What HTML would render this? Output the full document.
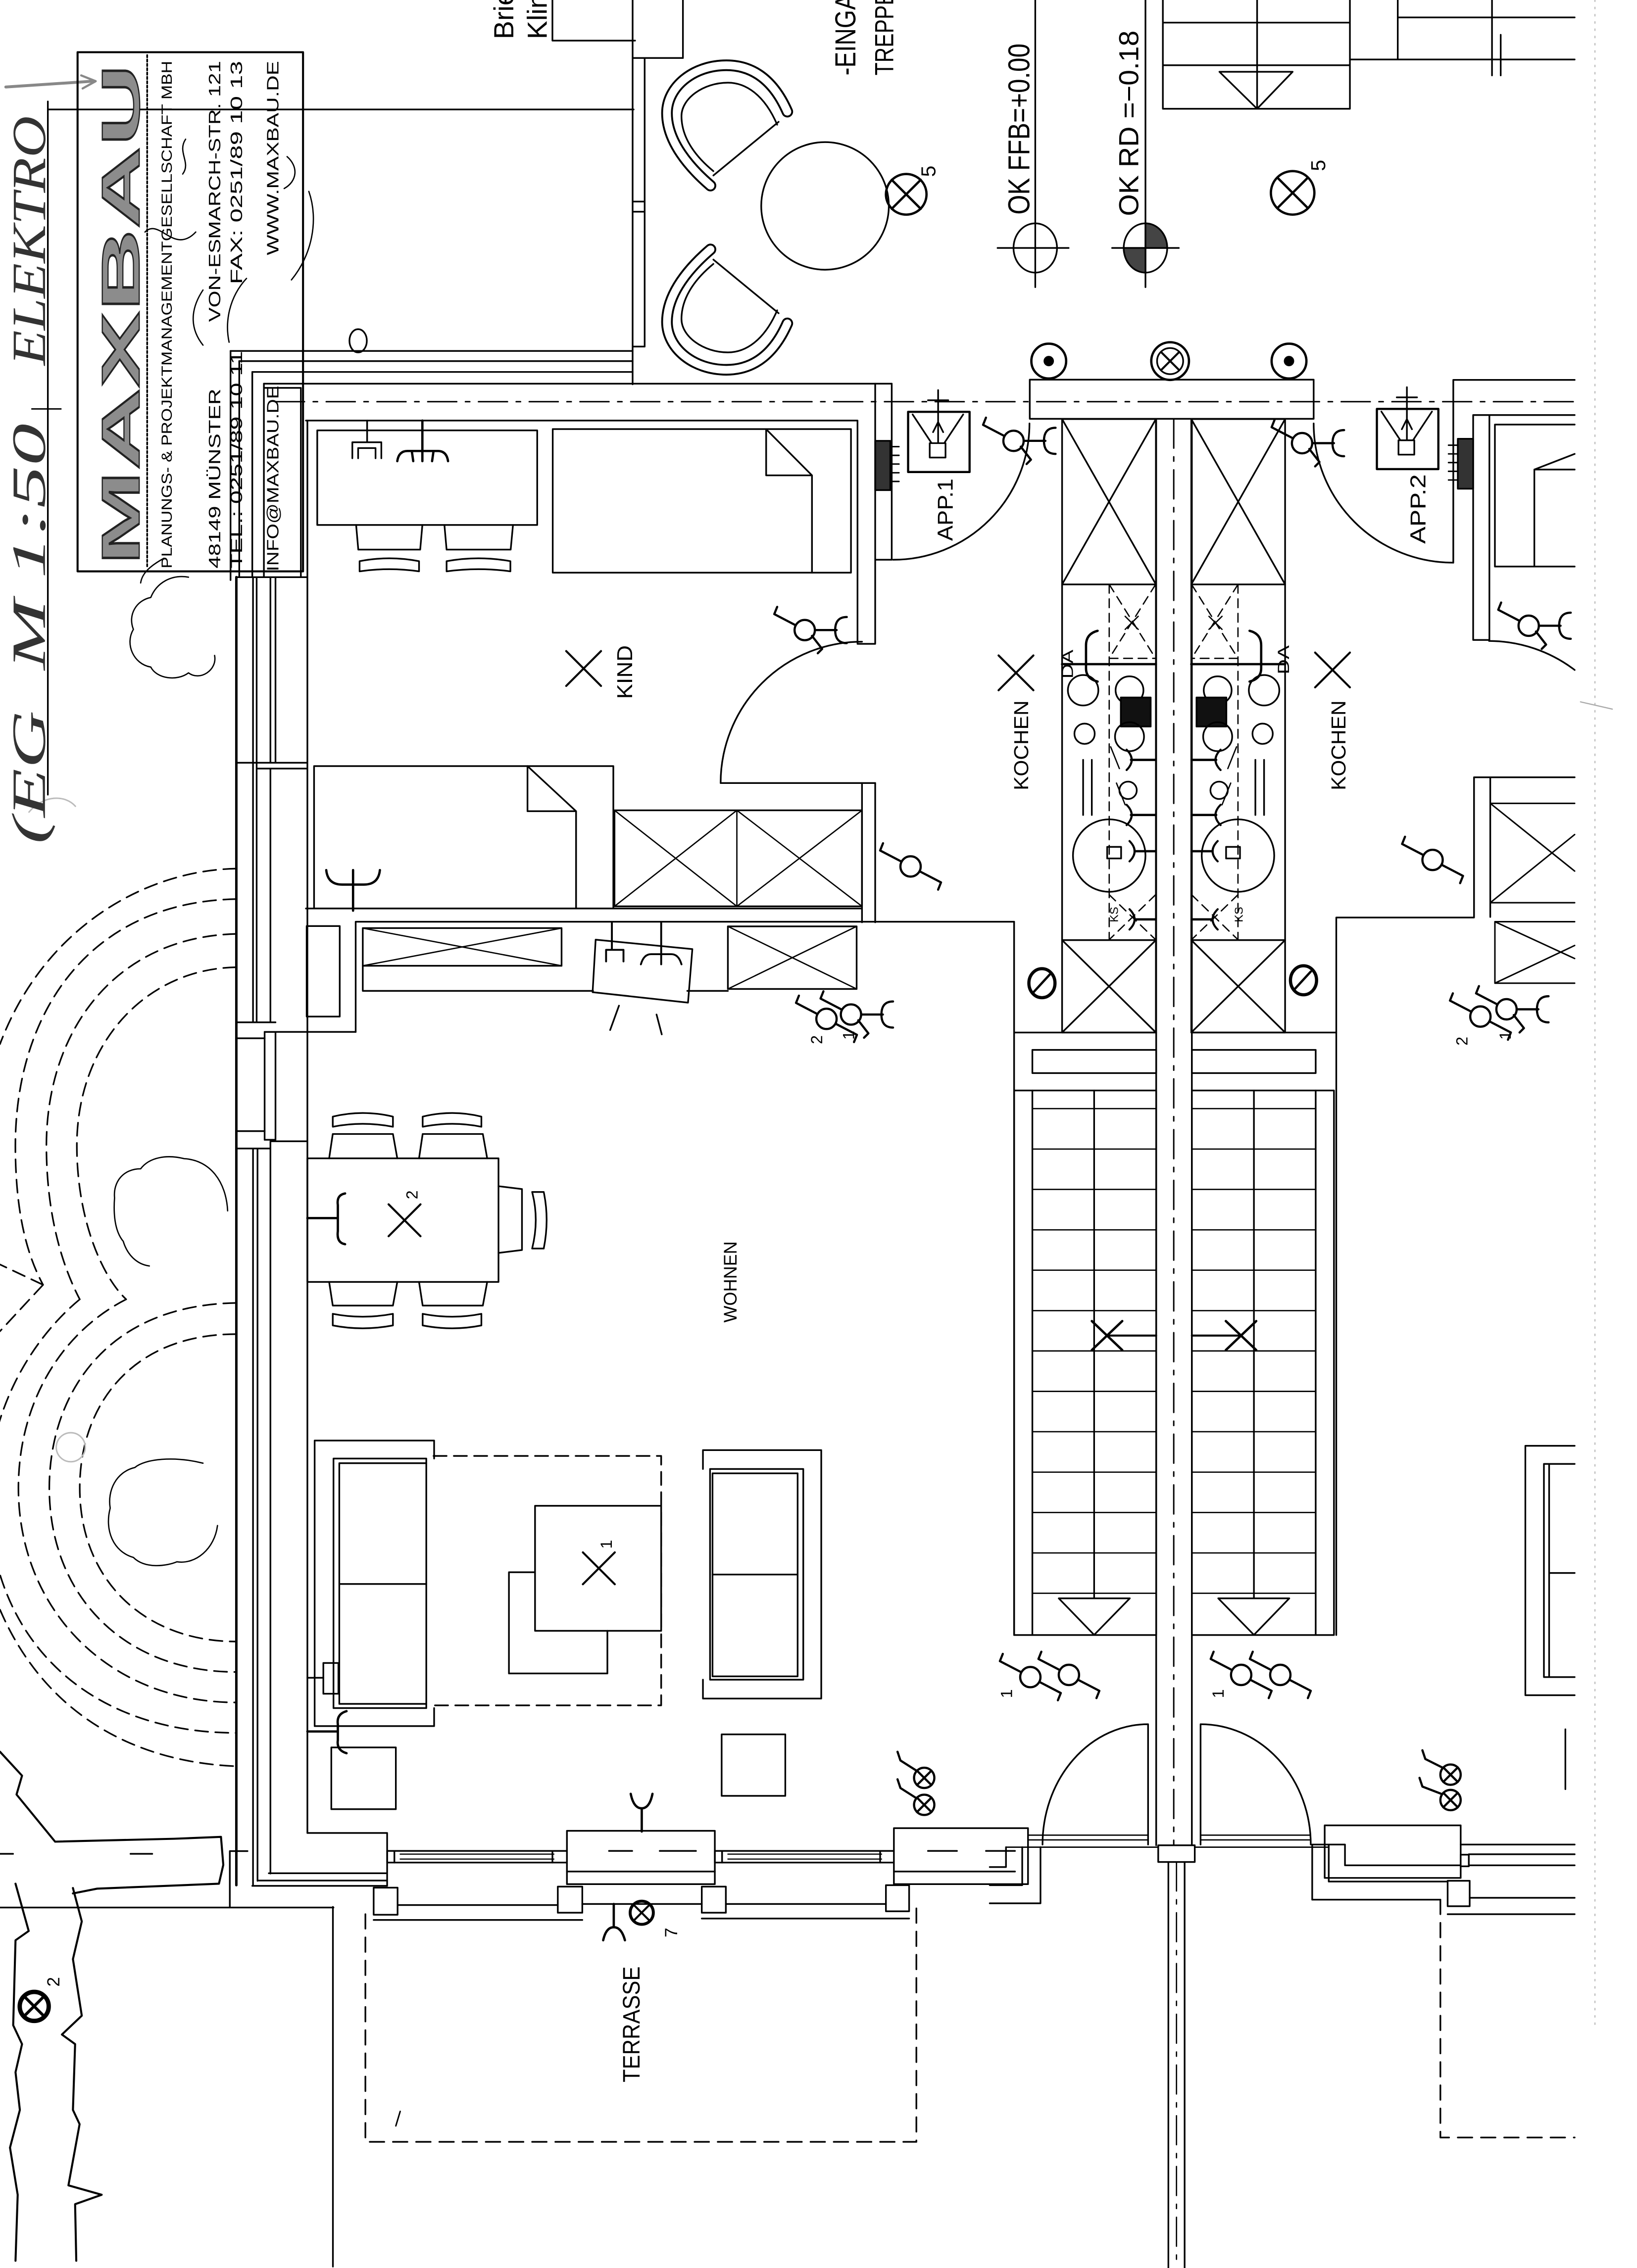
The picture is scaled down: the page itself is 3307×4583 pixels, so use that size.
<!DOCTYPE html>
<html><head><meta charset="utf-8"><style>
html,body{margin:0;padding:0;background:#fff;}
svg{display:block;}
text{font-family:"Liberation Sans",sans-serif;fill:#000;stroke:none;}
</style></head><body>
<svg xmlns="http://www.w3.org/2000/svg" xmlns:xlink="http://www.w3.org/1999/xlink" width="3307" height="4583" viewBox="0 0 1129 1564" preserveAspectRatio="none">
<defs>
 <g id="sw"><circle cx="0" cy="0" r="7"/><path d="M-6.2,-3.3 L-21,-11 L-19,-16 M6.2,3.3 L21,11 L19,16"/></g>
 <g id="swc"><circle cx="0" cy="0" r="7"/><path d="M-6.2,-3.3 L-21,-11 L-19,-16 M7,0 H22 M29,-9 Q21,-9 21,0 Q21,9 29,9 M5,4 L12,13 L9,16"/></g>
 <g id="lx"><circle cx="0" cy="0" r="7"/><path d="M-5,-5L5,5M5,-5L-5,5"/></g>
 <g id="kit">
  <rect x="732.5" y="289" width="64.7" height="423"/>
  <path d="M732.5,403H797.2 M732.5,289L797.2,403 M797.2,289L732.5,403"/>
  <path d="M732.5,648.3H797.2 M732.5,648.3L797.2,712 M797.2,648.3L732.5,712"/>
  <path d="M765,403V648 M765,403L797,454 M797,403L765,454 M765,454H797 M765,617L797,648 M797,617L765,648" stroke-dasharray="6 4" stroke-width="0.9"/>
  <path d="M776,425L785,434 M785,425L776,434" stroke-width="0.9"/>
  <path d="M732.5,458H797.2" stroke-width="1.6"/>
  <path d="M757,435 Q749,437 749,445 L749,461 Q749,468 757,470" stroke-width="1.6"/>
  <circle cx="747" cy="476" r="10.5"/>
  <circle cx="779" cy="476" r="9.6"/>
  <rect x="773" y="481" width="20.6" height="20" fill="#111"/>
  <circle cx="748" cy="506" r="7"/>
  <circle cx="779" cy="508" r="10"/>
  <path d="M747,524V562 M753,524V562"/>
  <path d="M780,524H797 M780,562H797 M783,587H797 M783,634H797" stroke-width="1.6"/>
  <circle cx="765" cy="590" r="25"/>
  <rect x="763.6" y="584" width="9.6" height="8"/>
  <path d="M777,517 Q784,524 777,531 M777,555 Q784,562 777,569 M779,580 Q786,587 779,594 M779,627 Q786,634 779,641" stroke-width="1.4"/>
  <circle cx="778" cy="545" r="6"/>
  <path d="M766,515 L772,530 M770,540 L776,555" stroke-width="0.9"/>
 </g>
 <g id="st">
  <rect x="699.4" y="752" width="98" height="375.5"/>
  <path d="M712,752V1127.5 M754.6,752V1102"/>
  <path d="M712,764.5H797.4 M712,792.4H797.4 M712,820.2H797.4 M712,848.1H797.4 M712,875.9H797.4 M712,903.8H797.4 M712,931.6H797.4 M712,959.5H797.4 M712,987.3H797.4 M712,1015.2H797.4 M712,1043H797.4 M712,1070.9H797.4 M712,1098.7H797.4" stroke-width="0.9"/>
  <path d="M730.2,1102.2H779.2L754.6,1127.4Z"/>
  <path d="M753,911L774,931 M753,931L774,911" stroke-width="1.6"/>
  <path d="M763.8,921H797.4" stroke-width="1.4"/>
  <rect x="712" y="724" width="85.4" height="16"/>
 </g>
</defs>
<rect width="1129" height="1564" fill="#fff"/>

<g fill="none" stroke="#000" stroke-width="1.15" stroke-linecap="round" stroke-linejoin="round">

<!-- handwriting / header -->
<path d="M4,60 L64,56" stroke="#888" stroke-width="2"/>
<path d="M56,52 L66,56 L57,61" stroke="#888" stroke-width="1.5"/>
<path d="M33,70V548"/>
<path d="M33,75.5H437"/>
<path d="M22,282 H42" stroke-width="1"/>

<!-- stamp -->
<rect x="53.5" y="36" width="155.5" height="358" stroke-width="1.4"/>
<path d="M101.5,38V392" stroke-dasharray="1.5 1.5" stroke-width="1.2"/>
<path d="M100,160 C110,150 120,176 135,160 M128,96 C122,105 132,112 126,120 M170,192 C158,205 155,222 158,236 M198,108 C206,115 205,125 196,130 M213,132 C220,152 215,176 201,193 M140,200 C130,215 132,228 140,238 M113,385 C104,390 98,395 97,402" stroke-width="0.9"/>
<!-- tree under stamp -->
<path d="M130,398 C118,396 108,402 104,412 C94,414 88,424 92,434 C86,444 92,458 104,460 C108,468 122,470 130,464 C138,470 150,462 148,452" stroke-width="0.9"/>

<!-- top front area -->
<path d="M381,0V28H438"/>
<path d="M436.3,0V265 M444.6,40V239 M436.3,40H471 M471,0V40 M436.3,139H444.6 M436.3,146H444.6 M436.3,239H444.6"/>
<path d="M159,242H436.3 M165,249H436.3 M174,256.5H436.3 M182,264.6H615"/>
<ellipse cx="247" cy="235" rx="6" ry="8"/>

<!-- chairs + table -->
<path d="M543,77 C532,52 516,45 501,45 C478,45 460,60 460,78 C460,98 476,116 490,128" stroke-width="8"/>
<path d="M543,77 C532,52 516,45 501,45 C478,45 460,60 460,78 C460,98 476,116 490,128" stroke="#fff" stroke-width="5.4"/>
<path d="M536,86 C527,65 514,57 502,57 C485,57 470,68 470,80 C470,96 481,109 492,118 M492,121 L537,84"/>
<g transform="matrix(1,0,0,-1,0,300)">
<path d="M543,77 C532,52 516,45 501,45 C478,45 460,60 460,78 C460,98 476,116 490,128" stroke-width="8"/>
<path d="M543,77 C532,52 516,45 501,45 C478,45 460,60 460,78 C460,98 476,116 490,128" stroke="#fff" stroke-width="5.4"/>
<path d="M536,86 C527,65 514,57 502,57 C485,57 470,68 470,80 C470,96 481,109 492,118 M492,121 L537,84"/>
</g>
<circle cx="569" cy="142" r="44"/>
<circle cx="625" cy="134" r="14" stroke-width="1.6"/>
<path d="M615,124L635,144 M635,124L615,144" stroke-width="1.6"/>

<!-- level markers -->
<path d="M714,0V198 M688,171H737"/>
<ellipse cx="714" cy="171" rx="15" ry="17"/>
<path d="M790,0V198 M767,171H813"/>
<ellipse cx="790" cy="171" rx="15" ry="17"/>
<path d="M790,171 L790,154 A15,17 0 0 1 805,171 Z M790,171 L790,188 A15,17 0 0 1 775,171 Z" fill="#444"/>

<!-- top right stair -->
<path d="M802,0V75H931V0 M867,0V75 M802,15.6H931 M802,45H931 M841,49.5H891.5L867,75Z"/>
<path d="M964,0V41 M964,12H1086 M931,41H1086 M1029,0V41 M1029,24V52 M1035,24V52"/>
<circle cx="891.5" cy="133" r="15" stroke-width="1.6"/>
<path d="M881,122.5L902,143.5 M902,122.5L881,143.5" stroke-width="1.6"/>

<!-- outlets top -->
<circle cx="723.3" cy="249" r="12" stroke-width="1.6"/><circle cx="723.3" cy="249" r="3" fill="#000"/>
<circle cx="807" cy="249" r="13" stroke-width="1.6"/><circle cx="807" cy="249" r="9"/>
<path d="M801,243L813,255 M813,243L801,255" stroke-width="1.4"/>
<circle cx="889" cy="249" r="12" stroke-width="1.6"/><circle cx="889" cy="249" r="3" fill="#000"/>

<!-- building top walls -->
<path d="M190,277H1086" stroke-dasharray="20 6 3 6" stroke-width="1"/>
<rect x="710.2" y="261.8" width="195.8" height="27"/>
<path d="M1086,262H1002.3V388 M1086,286.2H1016V441.3H1027.2V286.2"/>
<path d="M710,292 A94,94 0 0 1 616,386"/>
<path d="M906,292 A96,96 0 0 0 1002.3,388"/>

<!-- radiators -->
<rect x="603.6" y="304" width="10.4" height="34" fill="#333"/>
<path d="M614,308H620 M614,314H620 M614,320H620 M614,326H620 M614,332H620" stroke-width="1"/>
<rect x="1005.4" y="302.6" width="10.6" height="34.4" fill="#333"/>
<path d="M999,307H1005 M999,313H1005 M999,319H1005 M999,325H1005 M999,331H1005" stroke-width="1"/>

<!-- intercom boxes -->
<rect x="626.3" y="284" width="42.4" height="41.5" stroke-width="1.5"/>
<path d="M629.4,285.8L642.5,305.6 M664.3,285.8L651.2,305.6 M641.2,305.6H652.1V315.5H641.2Z M647,269V305 M640,276H654 M643.5,298L647,291L650.5,298"/>
<rect x="949.6" y="282" width="42.4" height="41.5" stroke-width="1.5"/>
<path d="M952.7,283.8L965.8,303.6 M987.6,283.8L974.5,303.6 M964.5,303.6H975.4V313.5H964.5Z M970.3,267V303 M963.3,274H977.3 M966.8,296L970.3,289L973.8,296"/>

<!-- left walls -->
<path d="M159,242V400 M165,249V398 M174,256.5V398 M182,264.6V398 M207.5,267.5V398 M182,267.5H207.5"/>
<path d="M163,398V1300" stroke-width="1.7"/>
<path d="M174.5,398V705 M177,398V705 M174.5,792V1300 M177.6,792V1297 M186.5,787V1292 M186.5,398V526 M190,398V526 M186.5,530V705 M212,290V1264 M163,398H212 M163,526H212 M177,530H212 M163,705H190 M163,716H182.5 M163,780H182.5 M182.5,711.6H245.3 M186.5,787H212 M163,792H186.5"/>
<rect x="182.5" y="711.6" width="7.5" height="74.4"/>

<!-- kid room walls -->
<path d="M211,290H591.4 M591.4,290V444H603.6 M603.6,264.6V444 M615,264.6V386H603.6"/>
<path d="M594.5,442.5 A97.5,97.5 0 0 0 497,540 H603.6"/>
<path d="M594.5,540V636 M603.6,540V636"/>
<path d="M211,626.5H594.5 M245.3,635.6H699.4 M245.3,635.6V711.6"/>
<rect x="211.5" y="638.6" width="22.8" height="62.4"/>

<!-- kid room furniture -->
<rect x="218.8" y="296.8" width="151.7" height="65.2"/>
<path d="M253.2,290V305 M243,316V305H263V316 M247,316V309H259V316"/>
<path d="M291.3,290V311 M274,318 Q275,311 281,311 L302,311 Q308,311 309,318 M284,311L285,318 M291.3,311V318 M299,311L298,318" stroke-width="1.6"/>
<path d="M245.6,362L247.1,379H289.8L291.3,362 M306.5,362L308,379H352.2L353.8,362"/>
<path d="M248,387 Q268.5,383 289,387 L289,394 Q268.5,391 248,394 Z M308,387 Q330,383 352,387 L352,394 Q330,391 308,394 Z"/>
<rect x="381.2" y="295.9" width="205.7" height="99"/>
<path d="M528.4,296V327.8H560V394.9 M528.4,296L560,327.8"/>
<path d="M390.5,449L414.5,473 M414.5,449L390.5,473" stroke-width="1.4"/>
<rect x="216.6" y="528.3" width="206.4" height="98.2"/>
<path d="M363.8,528.3V559.4H397.3V626.5 M363.8,528.3L397.3,559.4"/>
<path d="M225,600 Q226,610 236,610 L251,610 Q261,610 262,600 M243.5,600V628" stroke-width="1.6"/>
<rect x="423.8" y="558.8" width="170.7" height="66.2"/>
<path d="M508.2,558.8V625 M423.8,558.8L508.2,625 M508.2,558.8L423.8,625 M508.2,558.8L594.5,625 M594.5,558.8L508.2,625" stroke-width="0.9"/>

<!-- kitchen cabinets in living APP1 -->
<rect x="250.2" y="640" width="137.1" height="26"/>
<path d="M250.2,640L387.3,666 M387.3,640L250.2,666" stroke-width="0.9"/>
<path d="M250.2,666V683.3H409 M474,683.3H502"/>
<rect x="502" y="638.8" width="88.8" height="43.2"/>
<path d="M502,638.8L590.8,682 M590.8,638.8L502,682" stroke-width="0.9"/>
<path d="M410.8,648L477.5,654.5L474.5,691.4L408.7,684.2Z"/>
<path d="M422,636V655 M418,663V655H430V663 M456,636V657 M442,665 Q444,658 449,658 L463,658 Q468,658 470,665 M456,658V665" stroke-width="1.3"/>
<path d="M426.9,693.5L420.8,710.3 M452.8,699.6L456.4,713.3"/>

<!-- kitchen strips -->
<use xlink:href="#kit"/>
<use xlink:href="#kit" transform="matrix(-1,0,0,1,1618.8,0)"/>
<path d="M688.7,452L712.7,476 M712.7,452L688.7,476" stroke-width="1.4"/>
<path d="M907,450L931,474 M931,450L907,474" stroke-width="1.4"/>
<ellipse cx="718.6" cy="678" rx="9" ry="10" stroke-width="2.2"/>
<path d="M713,684L724,672" stroke-width="1.6"/>
<ellipse cx="899" cy="676" rx="9" ry="10" stroke-width="2.2"/>
<path d="M893,682L904,670" stroke-width="1.6"/>

<!-- living / stair walls -->
<path d="M699.4,635.6V1127.5"/>
<path d="M921.6,632.7V1127.5 M921.6,632.7H1016.6V536H1086 M1027.8,536V632.3"/>
<path d="M699.4,712H797.4 M822,712H921.6"/>
<path d="M797.4,289V1272.5 M822,289V1272.5"/>
<path d="M809.5,289V1272" stroke-dasharray="20 6 3 6" stroke-width="1"/>
<use xlink:href="#st"/>
<use xlink:href="#st" transform="matrix(-1,0,0,1,1619.4,0)"/>

<!-- bottom center doors -->
<rect x="798.8" y="1272.5" width="25.2" height="11.5"/>
<path d="M805.8,1284V1564 M817,1284V1564"/>
<path d="M811.4,1284V1564" stroke-dasharray="20 6 3 6" stroke-width="0.9"/>
<path d="M791.8,1189V1272 M791.8,1189 A72.8,83 0 0 0 719,1272"/>
<path d="M828,1189V1272 M828,1189 A76,83 0 0 1 904,1272"/>
<path d="M709,1265.5H791.8 M709,1268.8H791.8 M828,1265.5H903.8 M828,1268.8H903.8 M693.8,1273.8H798.8 M824,1273.8H916" stroke-width="0.9"/>
<path d="M682.6,1287.5H693.8V1273.8 M705,1273.8V1300H682.6 M717.6,1273.8V1312.5H682.6"/>

<!-- bottom band left -->
<path d="M174,1300.5H267 M177.6,1296.8H267 M185.4,1291.8H267 M212,1264H267V1300.5"/>
<path d="M267,1276.4H391 M267,1284.4H391 M493,1276.4H616.5 M493,1284.4H616.5"/>
<path d="M276,1278.6H382 M276,1282H382 M502,1278.6H608 M502,1282H608" stroke-width="0.8"/>
<path d="M267,1276.4V1284.4 M272,1276.4V1284.4 M381,1276.4V1284.4 M493,1276.4V1284.4 M498,1276.4V1284.4 M607,1276.4V1284.4"/>
<rect x="391" y="1262.5" width="102" height="36.8"/>
<path d="M391,1290.6H493 M420,1276.4H436 M455,1276.4H480"/>
<rect x="616.5" y="1260.7" width="92.5" height="38.6"/>
<path d="M616.5,1290.6H700 M640,1276.4H660 M680,1276.4H700"/>
<rect x="257.7" y="1301.7" width="16.5" height="18.7"/>
<rect x="384.7" y="1301" width="16.9" height="18"/>
<rect x="484" y="1301" width="16.6" height="18"/>
<rect x="611" y="1300" width="16" height="18"/>
<path d="M274.2,1313.7H384.7 M257.7,1324H401.6 M401.6,1313H484 M500.6,1313H611 M484,1323H627"/>

<!-- bottom band right -->
<rect x="913.6" y="1258.75" width="93.8" height="36.25"/>
<path d="M927.6,1272V1286.3H1007.4 M905,1272H927.6 M905,1272V1310H993.4 M916.4,1272.5V1297.5H998.4"/>
<rect x="998.4" y="1297" width="15.2" height="17.5"/>
<path d="M1007.4,1272H1086 M1013,1278.7H1086 M1013,1286.3H1086 M1013.6,1308.7H1086 M998.4,1320H1086"/>
<rect x="1007.4" y="1279" width="5.6" height="8"/>
<path d="M993.4,1310V1474H1086" stroke-dasharray="10 6"/>
<path d="M1079.6,1192.5V1233.8"/>

<!-- terrace -->
<path d="M252,1320V1477H632V1313" stroke-dasharray="10 6"/>
<path d="M229.6,1315V1563"/>
<path d="M273,1466L276,1456" stroke-width="1"/>

<!-- bottom-left corner & garden lines -->
<path d="M0,1315.4H230 M158.5,1276.5V1315.4 M158.5,1276.5H170.7"/>
<path d="M0,1278.4H9 M90,1278.4H105"/>
<path d="M0,1208 L15.2,1224.5 L11.4,1237.5 L38,1270 L120,1268 L152.4,1266.7 L154,1286 L151,1299 L67,1302.4 L50.3,1305.7" stroke-width="1.4"/>
<path d="M10.7,1299 L19.8,1331.6 L10.7,1338 L9.1,1396.6 L15.2,1409.6 L10.7,1429 L13.7,1455 L6.9,1481 L12.2,1513.5 L10.7,1559" stroke-width="1.4"/>
<path d="M50.3,1302 L56.4,1325 L50.3,1351 L56.4,1390 L42.7,1403 L51.8,1409.6 L50.3,1455 L54.9,1464.8 L47.2,1507 L70.1,1513.5 L51.8,1520 L52.6,1559" stroke-width="1.4"/>
<circle cx="23.6" cy="1383.6" r="10" stroke-width="3"/>
<path d="M17,1377L30,1390 M30,1377L17,1390" stroke-width="2"/>

<!-- garden arcs -->
<g stroke-dasharray="9 5" stroke-width="1.1">
<path d="M163,599 C100,600 30,640 0,720"/>
<path d="M163,620 C60,622 10.6,700 10.6,790 C10.6,840 20,868 29.7,886"/>
<path d="M163,644 C80,646 32,710 32,790 C32,840 44,875 55,896"/>
<path d="M163,667 C100,668 53,720 53,790 C53,840 70,880 87,896"/>
<path d="M29.7,886 L0,872 M29.7,886 L0,918"/>
<path d="M163,920 C90,920 55,970 55,1026 C55,1090 100,1132 163,1132"/>
<path d="M163,898.5 C70,900 34,965 34,1026 C34,1100 85,1153 163,1153"/>
<path d="M87,896 C40,920 12.7,970 12.7,1026 C12.7,1110 75,1174 163,1174"/>
<path d="M55,896 C20,925 -8,975 -8,1030 C-8,1130 60,1195 163,1195"/>
<path d="M0,1110 C30,1180 90,1215 163,1218"/>
</g>
<path d="M157,835 C156,815 145,800 127,799 C115,796 103,798 97,806 C85,806 78,815 79,826 C78,840 80,850 85,856 C88,866 95,872 103,873" stroke-width="0.9"/>
<path d="M140,1009 C120,1004 100,1006 93,1012 C80,1015 74,1028 76,1040 C72,1055 78,1070 92,1074 C100,1082 115,1080 122,1077 C135,1079 148,1068 150,1052" stroke-width="0.9"/>
<circle cx="48.8" cy="998" r="10" stroke="#bbb" stroke-width="1"/>
<path d="M20,560 C30,548 45,548 52,556" stroke="#bbb" stroke-width="1"/>

<!-- dining -->
<rect x="212" y="798.8" width="131.8" height="85.2"/>
<path d="M227,798.8L229.5,782H271L274,798.8 M289,798.8L291.5,782H333L336,798.8"/>
<path d="M229.5,770 Q250,765 271,770 L271,777 Q250,773 229.5,777 Z M291.5,770 Q312,765 332,770 L332,777 Q312,773 291.5,777 Z"/>
<path d="M227,884L229.5,900.3H271L274,884 M289,884L291.5,900.3H333L336,884"/>
<path d="M229.5,906 Q250,910 271,906 L271,914 Q250,918 229.5,914 Z M291.5,906 Q312,910 332,906 L332,914 Q312,918 291.5,914 Z"/>
<path d="M343.8,818L360,820V862L343.8,864"/>
<path d="M367,822 Q372,841 367,861 L375,861 Q379,841 375,822 Z"/>
<path d="M212,840H233 M238,823 Q232,824 233,831 L233,849 Q232,857 238,858" stroke-width="1.6"/>
<path d="M268,830.5L290,852.5 M290,830.5L268,852.5" stroke-width="1.4"/>

<!-- living furniture -->
<path d="M299.4,1005.8V993.4H217V1190.3H299.4V1177.9"/>
<rect x="230" y="1005.8" width="64" height="172.1"/>
<path d="M234,1009V1175 M234,1009H294 M234,1175H294 M234,1092.3H294"/>
<path d="M299,1004H456V1176H299" stroke-dasharray="9 5"/>
<rect x="369" y="1038.4" width="87" height="86.2"/>
<path d="M369,1084.2H351V1154H418.9V1124.6"/>
<path d="M402,1070.5L424,1092.5 M424,1070.5L402,1092.5" stroke-width="1.4"/>
<path d="M484.8,1013V1000H566.4V1171.3H484.8V1158.3"/>
<rect x="489.7" y="1013" width="64.3" height="145.3"/>
<rect x="491.4" y="1016" width="58.7" height="140"/>
<path d="M491.4,1085.8H550.1"/>
<rect x="228.5" y="1205" width="44.5" height="42.6"/>
<rect x="497.7" y="1196" width="43.9" height="42.4"/>
<rect x="223" y="1146.8" width="10.4" height="21.2"/>
<path d="M212,1157H223"/>
<path d="M212,1194H232 M239,1180 Q232,1182 233,1189 L233,1200 Q232,1207 239,1209" stroke-width="1.6"/>
<path d="M442.6,1247V1263 M435,1237 Q437,1247 442.6,1247 Q448,1247 450,1237" stroke-width="1.6"/>
<path d="M423.3,1313V1329 M416,1338 Q418,1329 423.3,1329 Q428.6,1329 431,1338" stroke-width="1.6"/>
<circle cx="442.6" cy="1319" r="8" stroke-width="2"/>
<path d="M437,1313.5L448,1324.5 M448,1313.5L437,1324.5" stroke-width="1.4"/>

<!-- switches -->
<g stroke-width="1.5">
<use xlink:href="#sw" x="628" y="597.5"/>
<use xlink:href="#sw" x="710.6" y="1156.5"/>
<use xlink:href="#sw" x="737.2" y="1155"/>
<use xlink:href="#sw" x="856" y="1155"/>
<use xlink:href="#sw" x="883" y="1155"/>
<use xlink:href="#sw" x="988" y="593"/>
<use xlink:href="#swc" x="555" y="434.5"/>
<use xlink:href="#swc" x="699" y="304"/>
<use xlink:href="#swc" x="898" y="305.6"/>
<use xlink:href="#swc" x="1054.3" y="431.5"/>
<use xlink:href="#sw" x="570" y="702.6"/>
<use xlink:href="#swc" x="586.9" y="699.6"/>
<use xlink:href="#sw" x="1021" y="701"/>
<use xlink:href="#swc" x="1039" y="696"/>
<use xlink:href="#lx" x="637.4" y="1226"/>
<use xlink:href="#lx" x="637.4" y="1244.6"/>
<use xlink:href="#lx" x="1000.4" y="1223.8"/>
<use xlink:href="#lx" x="1000.4" y="1241.3"/>
<path d="M619,1208 L621,1214 L632,1221 M619,1227 L621,1233 L632,1240"/>
<path d="M981,1207 L983,1213 L995,1219 M979,1226 L981,1232 L994,1237"/>
</g>

<!-- APP.2 room -->
<path d="M1031,292.8H1086 M1031,292.8V390.7H1086 M1058.2,323.8V390.7 M1058.2,323.8H1086 M1058.2,323.8L1086,313"/>
<path d="M1027,442 A98,98 0 0 1 1086,462"/>
<path d="M1027.8,554H1086 M1027.8,622.5H1086 M1027.8,554L1086,600.7 M1027.8,622.5L1086,575.5" stroke-width="1"/>
<path d="M1031,635.6H1086 M1031,635.6V678H1086 M1031,635.6L1086,661 M1031,678L1086,652" stroke-width="1"/>
<path d="M1052,997H1086 M1052,997V1169H1086 M1064.8,1009.5V1156.5 M1068.4,1009.5V1156.5 M1064.8,1009.5H1086 M1064.8,1156.5H1086 M1068.4,1084.7H1086"/>

<path d="M1100,0V1400" stroke="#bbb" stroke-dasharray="1 4" stroke-width="0.8"/>
<path d="M1090,484L1112,489" stroke="#aaa" stroke-width="0.8"/>
</g>

<!-- texts -->
<text transform="translate(31,252) rotate(-90)" style="font-family:'Liberation Serif',serif;font-style:italic;fill:#333" font-size="33" textLength="172" lengthAdjust="spacingAndGlyphs">ELEKTRO</text>
<text transform="translate(31,462) rotate(-90)" style="font-family:'Liberation Serif',serif;font-style:italic;fill:#333" font-size="33" textLength="170" lengthAdjust="spacingAndGlyphs">M 1:50</text>
<text transform="translate(31,582) rotate(-90)" style="font-family:'Liberation Serif',serif;font-style:italic;fill:#333" font-size="33" textLength="92" lengthAdjust="spacingAndGlyphs">(EG</text>

<text transform="translate(96,390) rotate(-90)" font-size="37" font-weight="bold" textLength="346" lengthAdjust="spacingAndGlyphs" style="fill:#8c8c8c;stroke:#222;stroke-width:0.8">MAXBAU</text>
<text transform="translate(118.5,392) rotate(-90)" font-size="10" textLength="350" lengthAdjust="spacingAndGlyphs" fill="#111">PLANUNGS- &amp; PROJEKTMANAGEMENTGESELLSCHAFT MBH</text>
<text transform="translate(152,392) rotate(-90)" font-size="11.5" textLength="124" lengthAdjust="spacingAndGlyphs" fill="#111">48149 MÜNSTER</text>
<text transform="translate(152,222) rotate(-90)" font-size="11.5" textLength="180" lengthAdjust="spacingAndGlyphs" fill="#111">VON-ESMARCH-STR. 121</text>
<text transform="translate(167,392) rotate(-90)" font-size="11.5" textLength="150" lengthAdjust="spacingAndGlyphs" fill="#111">TEL.: 0251/89 10 11</text>
<text transform="translate(167,196) rotate(-90)" font-size="11.5" textLength="154" lengthAdjust="spacingAndGlyphs" fill="#111">FAX: 0251/89 10 13</text>
<text transform="translate(192,394) rotate(-90)" font-size="11.5" textLength="128" lengthAdjust="spacingAndGlyphs" fill="#111">INFO@MAXBAU.DE</text>
<text transform="translate(192,176) rotate(-90)" font-size="11.5" textLength="134" lengthAdjust="spacingAndGlyphs" fill="#111">WWW.MAXBAU.DE</text>

<text transform="translate(354,27) rotate(-90)" font-size="19">Brief</text>
<text transform="translate(377,27) rotate(-90)" font-size="19">Kling</text>
<text transform="translate(590,52) rotate(-90)" font-size="20" textLength="56" lengthAdjust="spacingAndGlyphs">-EINGA</text>
<text transform="translate(616,52) rotate(-90)" font-size="18" textLength="58" lengthAdjust="spacingAndGlyphs">TREPPE</text>
<text transform="translate(645,122) rotate(-90)" font-size="14">5</text>
<text transform="translate(914,118) rotate(-90)" font-size="14">5</text>
<text transform="translate(710,148) rotate(-90)" font-size="21" textLength="118" lengthAdjust="spacingAndGlyphs">OK  FFB=+0.00</text>
<text transform="translate(785,149) rotate(-90)" font-size="19" textLength="128" lengthAdjust="spacingAndGlyphs">OK  RD  =−0.18</text>
<text transform="translate(657,373) rotate(-90)" font-size="15" textLength="43" lengthAdjust="spacingAndGlyphs">APP.1</text>
<text transform="translate(983,375) rotate(-90)" font-size="15" textLength="48" lengthAdjust="spacingAndGlyphs">APP.2</text>
<text transform="translate(436,482) rotate(-90)" font-size="15" textLength="37" lengthAdjust="spacingAndGlyphs">KIND</text>
<text transform="translate(709,545) rotate(-90)" font-size="14" textLength="62" lengthAdjust="spacingAndGlyphs">KOCHEN</text>
<text transform="translate(928,545) rotate(-90)" font-size="14" textLength="62" lengthAdjust="spacingAndGlyphs">KOCHEN</text>
<text transform="translate(740,468) rotate(-90)" font-size="11" textLength="20" lengthAdjust="spacingAndGlyphs">DA</text>
<text transform="translate(889,465) rotate(-90)" font-size="11" textLength="20" lengthAdjust="spacingAndGlyphs">DA</text>
<text transform="translate(771,636) rotate(-90)" font-size="8">KS</text>
<text transform="translate(857,636) rotate(-90)" font-size="8">KS</text>
<text transform="translate(508,912) rotate(-90)" font-size="12.5" textLength="56" lengthAdjust="spacingAndGlyphs">WOHNEN</text>
<text transform="translate(441,1436) rotate(-90)" font-size="16.5" textLength="80" lengthAdjust="spacingAndGlyphs">TERRASSE</text>
<text transform="translate(288,827) rotate(-90)" font-size="11">2</text>
<text transform="translate(422,1068) rotate(-90)" font-size="11">1</text>
<text transform="translate(467,1336) rotate(-90)" font-size="12">7</text>
<text transform="translate(41,1370) rotate(-90)" font-size="12">2</text>
<text transform="translate(698,1171) rotate(-90)" font-size="11">1</text>
<text transform="translate(844,1171) rotate(-90)" font-size="11">1</text>
<text transform="translate(567,720) rotate(-90)" font-size="11">2</text>
<text transform="translate(589,717) rotate(-90)" font-size="11">1</text>
<text transform="translate(1012,721) rotate(-90)" font-size="11">2</text>
<text transform="translate(1042,717) rotate(-90)" font-size="11">1</text>
</svg>
</body></html>
